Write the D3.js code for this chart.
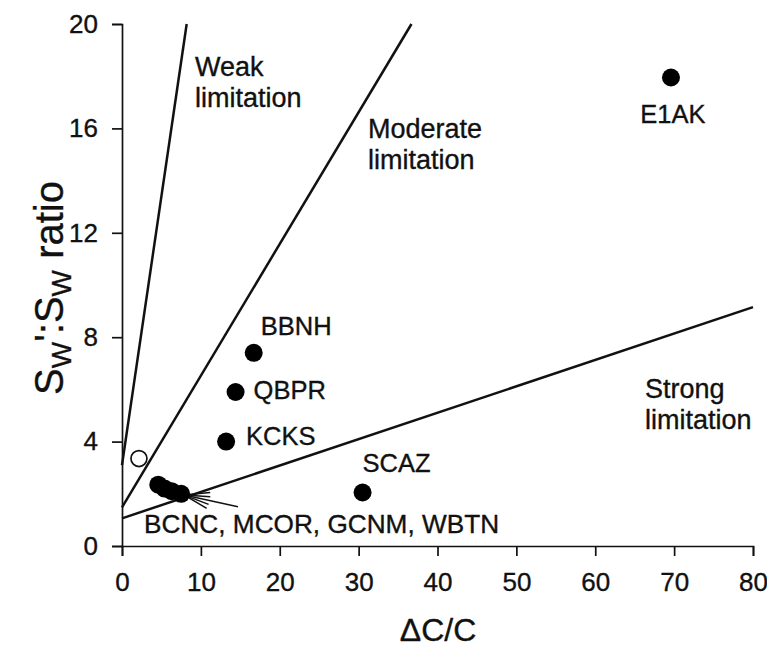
<!DOCTYPE html>
<html>
<head>
<meta charset="utf-8">
<script src="https://cdn.jsdelivr.net/npm/d3@7"></script>
<style>
  html, body { margin: 0; padding: 0; background: #fff; }
  svg { display: block; }
  text { font-family: "Liberation Sans", Arial, Helvetica, sans-serif; fill: #111; stroke: #111; stroke-width: 0.35px; }
</style>
</head>
<body>
<svg id="chart" width="767" height="647"></svg>
<script>
// ---------- data ----------
const siteNames   = ["E1AK", "BBNH", "QBPR", "KCKS", "SCAZ", "BCNC", "MCOR", "GCNM", "WBTN"];
const siteDeltaC  = [69.6, 16.7, 14.4, 13.2, 30.5, 4.6, 5.4, 6.3, 7.5];
const siteRatio   = [17.95, 7.4, 5.9, 4.0, 2.05, 2.35, 2.2, 2.1, 2.0];
const openDeltaC  = [2.15];
const openRatio   = [3.35];

const lineNames   = ["Weak", "Moderate", "Strong"];
const lineStart   = [[0, 3.1], [0, 1.48], [0, 1.06]];
const lineEnd     = [[8.2, 20], [36.7, 20], [80, 9.15]];

const xTicks = [0, 10, 20, 30, 40, 50, 60, 70, 80];
const yTicks = [0, 4, 8, 12, 16, 20];
const clusterLabel = "BCNC, MCOR, GCNM, WBTN";
const arrowTail = [14.7, 1.5];
const arrowHead = [7.9, 1.95];

// ---------- layout ----------
const svg = d3.select("#chart");
const x = d3.scaleLinear().domain([0, 80]).range([122, 753]);
const y = d3.scaleLinear().domain([0, 20]).range([546, 24]);
const FS = 25.5;

// label offsets (px) relative to their points
const labelLayout = {
  E1AK: {dx: 2, dy: 45, anchor: "middle"},
  BBNH: {dx: 7, dy: -18, anchor: "start"},
  QBPR: {dx: 18, dy: 7, anchor: "start"},
  KCKS: {dx: 20, dy: 3, anchor: "start"},
  SCAZ: {dx: 0, dy: -20, anchor: "start"}
};

// ---------- axes ----------
const xAxis = d3.axisBottom(x).tickValues(xTicks).tickSize(10).tickPadding(17).tickFormat(d3.format("d"));
const yAxis = d3.axisLeft(y).tickValues(yTicks).tickSize(10).tickPadding(14).tickFormat(d3.format("d"));

const gx = svg.append("g").attr("transform", `translate(0,${y(0)})`).call(xAxis);
const gy = svg.append("g").attr("transform", `translate(${x(0)},0)`).call(yAxis);
[gx, gy].forEach(g => {
  g.selectAll("path, line").attr("stroke", "#111").attr("stroke-width", 1.7);
  g.selectAll("text").attr("font-size", 26).attr("fill", "#111")
    .attr("font-family", '"Liberation Sans", Arial, sans-serif');
});

// ---------- limitation lines ----------
svg.append("g").selectAll("line").data(lineNames).join("line")
  .attr("x1", (d, i) => x(lineStart[i][0]))
  .attr("y1", (d, i) => y(lineStart[i][1]))
  .attr("x2", (d, i) => x(lineEnd[i][0]))
  .attr("y2", (d, i) => y(lineEnd[i][1]))
  .attr("stroke", "#111").attr("stroke-width", 2.5);

// ---------- arrow ----------
const ax1 = x(arrowTail[0]), ay1 = y(arrowTail[1]);
const ax2 = x(arrowHead[0]), ay2 = y(arrowHead[1]);
const ang = Math.atan2(ay1 - ay2, ax1 - ax2);
const ga = svg.append("g").attr("stroke", "#111").attr("stroke-width", 1.5);
ga.append("line").attr("x1", ax1).attr("y1", ay1).attr("x2", ax2).attr("y2", ay2);
[-0.32, -0.15, 0.15, 0.32].forEach(da => {
  const L = 26;
  ga.append("line").attr("x1", ax2).attr("y1", ay2)
    .attr("x2", ax2 + L * Math.cos(ang + da)).attr("y2", ay2 + L * Math.sin(ang + da));
});

// ---------- points ----------
const sites = siteNames.map((n, i) => ({name: n, dx: siteDeltaC[i], r: siteRatio[i]}));
svg.append("g").selectAll("circle").data(sites).join("circle")
  .attr("cx", d => x(d.dx)).attr("cy", d => y(d.r)).attr("r", 9).attr("fill", "#000");

svg.append("g").selectAll("circle").data(openDeltaC).join("circle")
  .attr("cx", d => x(d)).attr("cy", (d, i) => y(openRatio[i])).attr("r", 8)
  .attr("fill", "#fff").attr("stroke", "#111").attr("stroke-width", 1.7);

// point labels
svg.append("g").selectAll("text").data(sites.filter(d => labelLayout[d.name])).join("text")
  .attr("x", d => x(d.dx) + labelLayout[d.name].dx)
  .attr("y", d => y(d.r) + labelLayout[d.name].dy)
  .attr("text-anchor", d => labelLayout[d.name].anchor)
  .attr("font-size", FS)
  .text(d => d.name);

svg.append("text").attr("x", x(2.8)).attr("y", y(0.5)).attr("font-size", 26.2).text(clusterLabel);

// ---------- region labels ----------
const regionText = [
  {lines: ["Weak", "limitation"], x: 195, y: 76},
  {lines: ["Moderate", "limitation"], x: 368, y: 138},
  {lines: ["Strong", "limitation"], x: 645, y: 398}
];
regionText.forEach(r => {
  const t = svg.append("text").attr("x", r.x).attr("y", r.y).attr("font-size", 27);
  r.lines.forEach((l, i) => t.append("tspan").attr("x", r.x).attr("dy", i === 0 ? 0 : 31).text(l));
});

// ---------- axis titles ----------
svg.append("text").attr("x", 438).attr("y", 641).attr("text-anchor", "middle")
  .attr("font-size", 32).text("ΔC/C");

const yt = svg.append("text").attr("transform", "translate(63,288) rotate(-90)")
  .attr("text-anchor", "middle").attr("font-size", 40);
yt.append("tspan").text("S");
yt.append("tspan").attr("font-size", 28).attr("dy", 8).text("W");
yt.append("tspan").attr("dy", -8).text("':S");
yt.append("tspan").attr("font-size", 28).attr("dy", 8).text("W");
yt.append("tspan").attr("dy", -8).text(" ratio");
</script>
</body>
</html>
